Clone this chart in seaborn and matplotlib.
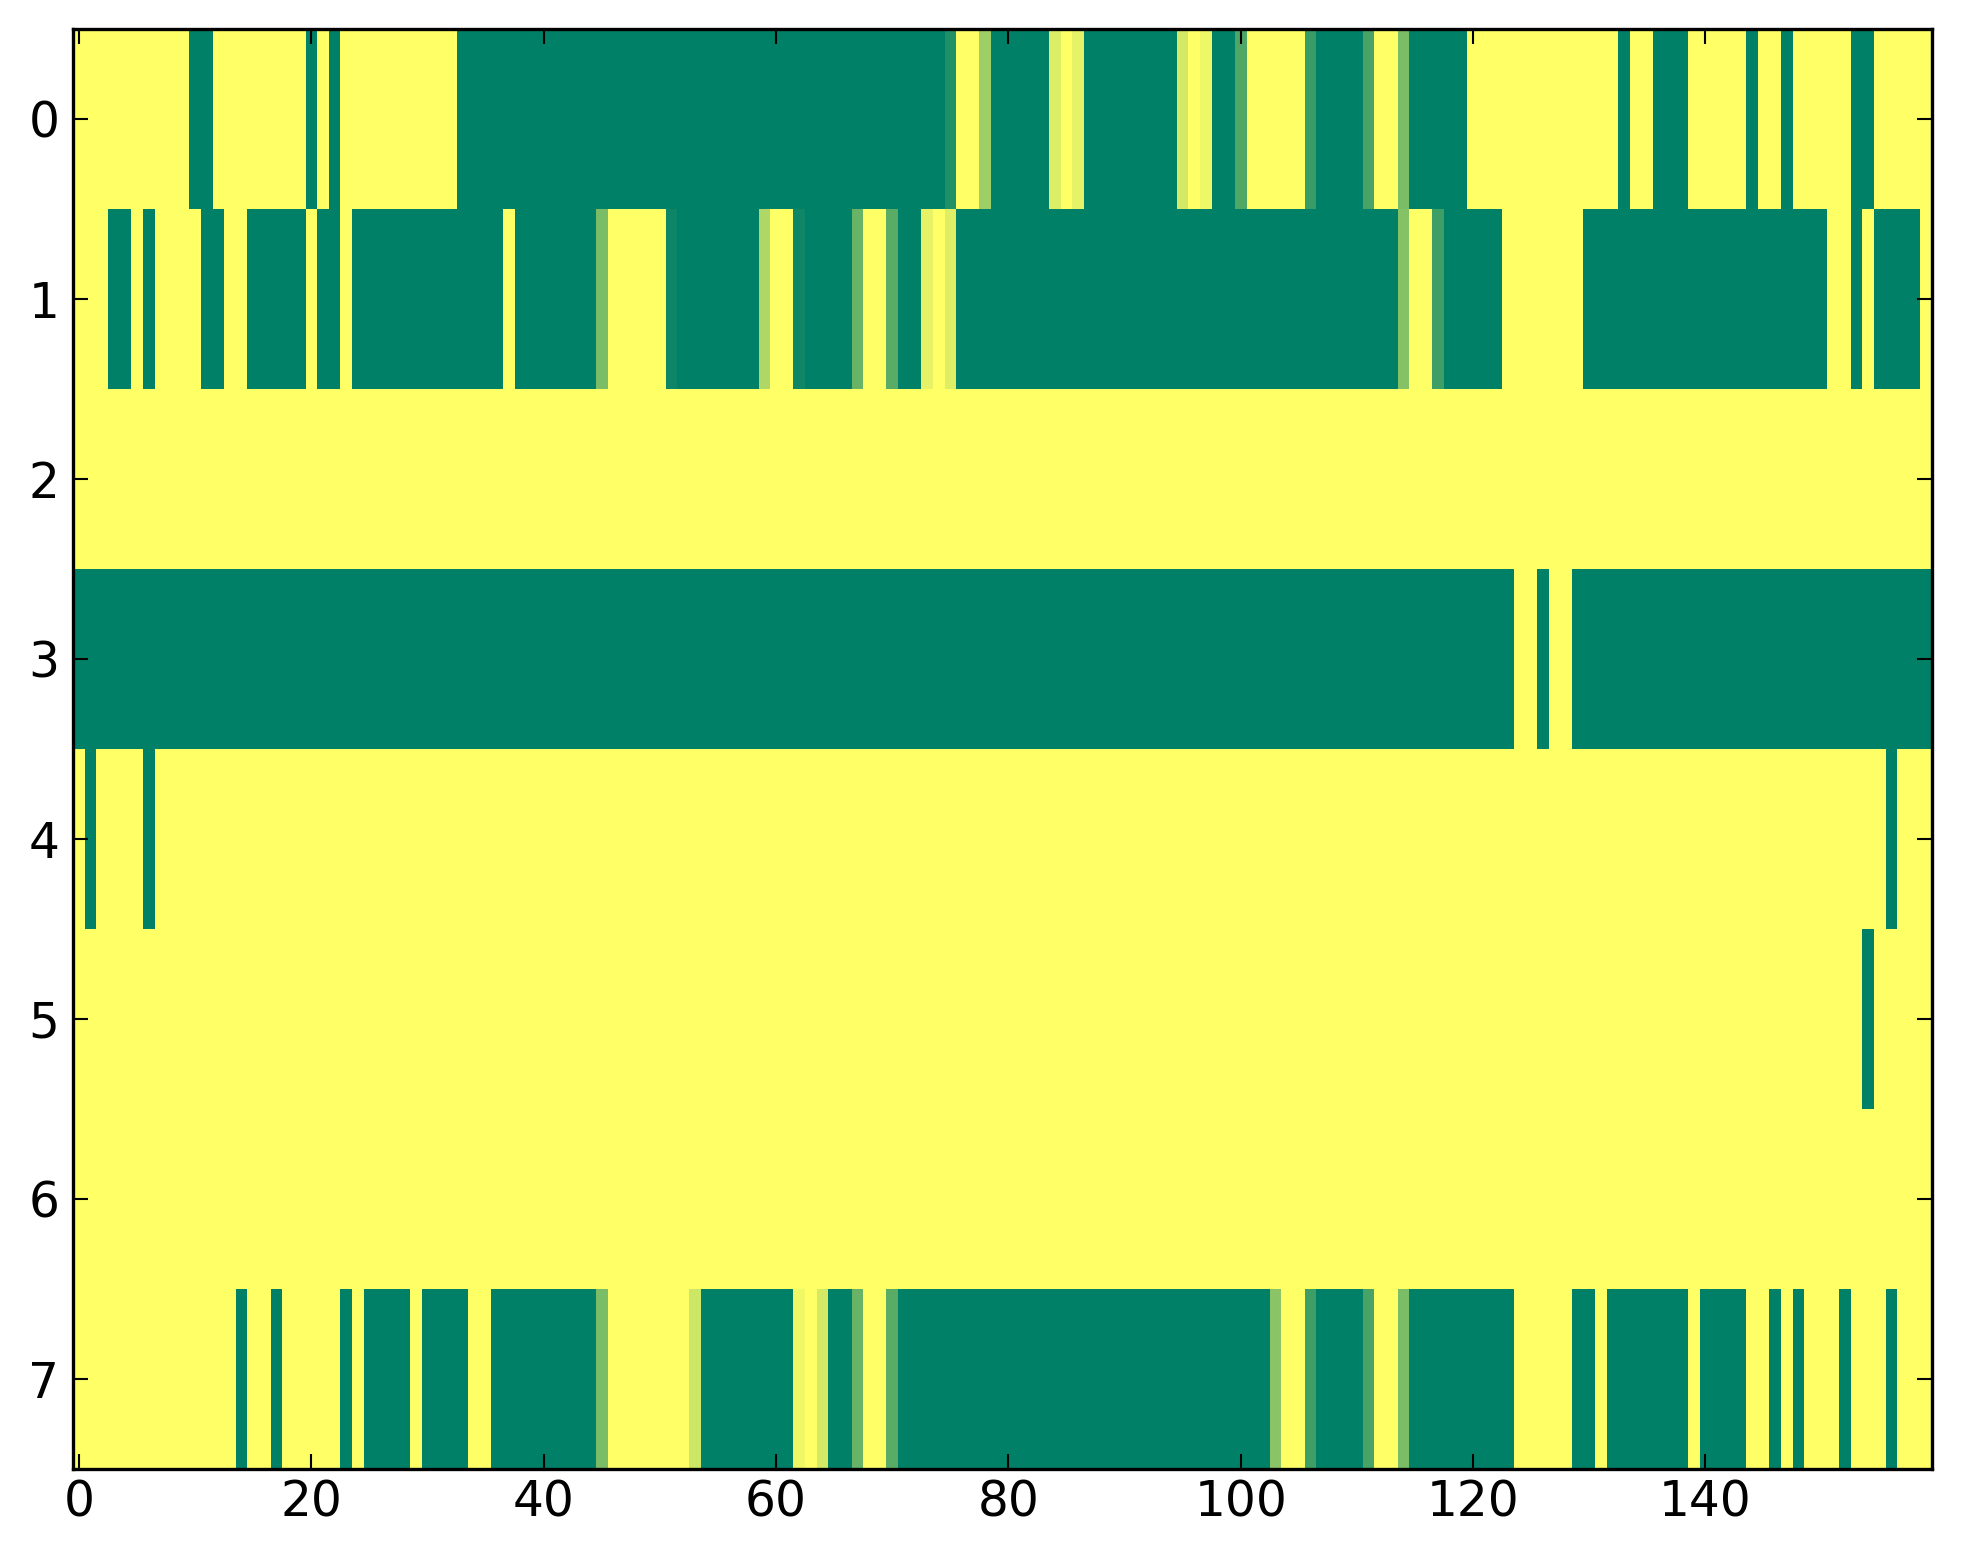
import numpy as np
import pandas as pd
import matplotlib
matplotlib.use("Agg")
import matplotlib.pyplot as plt
import seaborn as sns

# ---- data (one list per row, 160 columns) ----
row0 = [1, 1, 1, 1, 1, 1, 1, 1, 1, 1,
        0, 0, 1, 1, 1, 1, 1, 1, 1, 1,
        0, 1, 0, 1, 1, 1, 1, 1, 1, 1,
        1, 1, 1, 0, 0, 0, 0, 0, 0, 0,
        0, 0, 0, 0, 0, 0, 0, 0, 0, 0,
        0, 0, 0, 0, 0, 0, 0, 0, 0, 0,
        0, 0, 0, 0, 0, 0, 0, 0, 0, 0,
        0, 0, 0, 0, 0, .13, 1, 1, .62, 0,
        0, 0, 0, 0, .86, 1, .9, 0, 0, 0,
        0, 0, 0, 0, 0, .83, 1, .93, 0, 0,
        .31, 1, 1, 1, 1, 1, .22, 0, 0, 0,
        0, .28, 1, 1, .48, 0, 0, 0, 0, 0,
        1, 1, 1, 1, 1, 1, 1, 1, 1, 1,
        1, 1, 1, 0, 1, 1, 0, 0, 0, 1,
        1, 1, 1, 1, 0, 1, 1, 0, 1, 1,
        1, 1, 1, 0, 0, 1, 1, 1, 1, 1]
row1 = [1, 1, 1, 0, 0, 1, 0, 1, 1, 1,
        1, 0, 0, 1, 1, 0, 0, 0, 0, 0,
        1, 0, 0, 1, 0, 0, 0, 0, 0, 0,
        0, 0, 0, 0, 0, 0, 0, 1, 0, 0,
        0, 0, 0, 0, 0, .48, 1, 1, 1, 1,
        1, .05, 0, 0, 0, 0, 0, 0, 0, .68,
        1, 1, .06, 0, 0, 0, 0, .41, 1, 1,
        .35, 0, 0, .9, 1, .87, 0, 0, 0, 0,
        0, 0, 0, 0, 0, 0, 0, 0, 0, 0,
        0, 0, 0, 0, 0, 0, 0, 0, 0, 0,
        0, 0, 0, 0, 0, 0, 0, 0, 0, 0,
        0, 0, 0, 0, .52, 1, 1, .24, 0, 0,
        0, 0, 0, 1, 1, 1, 1, 1, 1, 1,
        0, 0, 0, 0, 0, 0, 0, 0, 0, 0,
        0, 0, 0, 0, 0, 0, 0, 0, 0, 0,
        0, 1, 1, 0, 1, 0, 0, 0, 0, 1]
row2 = [1, 1, 1, 1, 1, 1, 1, 1, 1, 1,
        1, 1, 1, 1, 1, 1, 1, 1, 1, 1,
        1, 1, 1, 1, 1, 1, 1, 1, 1, 1,
        1, 1, 1, 1, 1, 1, 1, 1, 1, 1,
        1, 1, 1, 1, 1, 1, 1, 1, 1, 1,
        1, 1, 1, 1, 1, 1, 1, 1, 1, 1,
        1, 1, 1, 1, 1, 1, 1, 1, 1, 1,
        1, 1, 1, 1, 1, 1, 1, 1, 1, 1,
        1, 1, 1, 1, 1, 1, 1, 1, 1, 1,
        1, 1, 1, 1, 1, 1, 1, 1, 1, 1,
        1, 1, 1, 1, 1, 1, 1, 1, 1, 1,
        1, 1, 1, 1, 1, 1, 1, 1, 1, 1,
        1, 1, 1, 1, 1, 1, 1, 1, 1, 1,
        1, 1, 1, 1, 1, 1, 1, 1, 1, 1,
        1, 1, 1, 1, 1, 1, 1, 1, 1, 1,
        1, 1, 1, 1, 1, 1, 1, 1, 1, 1]
row3 = [0, 0, 0, 0, 0, 0, 0, 0, 0, 0,
        0, 0, 0, 0, 0, 0, 0, 0, 0, 0,
        0, 0, 0, 0, 0, 0, 0, 0, 0, 0,
        0, 0, 0, 0, 0, 0, 0, 0, 0, 0,
        0, 0, 0, 0, 0, 0, 0, 0, 0, 0,
        0, 0, 0, 0, 0, 0, 0, 0, 0, 0,
        0, 0, 0, 0, 0, 0, 0, 0, 0, 0,
        0, 0, 0, 0, 0, 0, 0, 0, 0, 0,
        0, 0, 0, 0, 0, 0, 0, 0, 0, 0,
        0, 0, 0, 0, 0, 0, 0, 0, 0, 0,
        0, 0, 0, 0, 0, 0, 0, 0, 0, 0,
        0, 0, 0, 0, 0, 0, 0, 0, 0, 0,
        0, 0, 0, 0, 1, 1, 0, 1, 1, 0,
        0, 0, 0, 0, 0, 0, 0, 0, 0, 0,
        0, 0, 0, 0, 0, 0, 0, 0, 0, 0,
        0, 0, 0, 0, 0, 0, 0, 0, 0, 0]
row4 = [1, 0, 1, 1, 1, 1, 0, 1, 1, 1,
        1, 1, 1, 1, 1, 1, 1, 1, 1, 1,
        1, 1, 1, 1, 1, 1, 1, 1, 1, 1,
        1, 1, 1, 1, 1, 1, 1, 1, 1, 1,
        1, 1, 1, 1, 1, 1, 1, 1, 1, 1,
        1, 1, 1, 1, 1, 1, 1, 1, 1, 1,
        1, 1, 1, 1, 1, 1, 1, 1, 1, 1,
        1, 1, 1, 1, 1, 1, 1, 1, 1, 1,
        1, 1, 1, 1, 1, 1, 1, 1, 1, 1,
        1, 1, 1, 1, 1, 1, 1, 1, 1, 1,
        1, 1, 1, 1, 1, 1, 1, 1, 1, 1,
        1, 1, 1, 1, 1, 1, 1, 1, 1, 1,
        1, 1, 1, 1, 1, 1, 1, 1, 1, 1,
        1, 1, 1, 1, 1, 1, 1, 1, 1, 1,
        1, 1, 1, 1, 1, 1, 1, 1, 1, 1,
        1, 1, 1, 1, 1, 1, 0, 1, 1, 1]
row5 = [1, 1, 1, 1, 1, 1, 1, 1, 1, 1,
        1, 1, 1, 1, 1, 1, 1, 1, 1, 1,
        1, 1, 1, 1, 1, 1, 1, 1, 1, 1,
        1, 1, 1, 1, 1, 1, 1, 1, 1, 1,
        1, 1, 1, 1, 1, 1, 1, 1, 1, 1,
        1, 1, 1, 1, 1, 1, 1, 1, 1, 1,
        1, 1, 1, 1, 1, 1, 1, 1, 1, 1,
        1, 1, 1, 1, 1, 1, 1, 1, 1, 1,
        1, 1, 1, 1, 1, 1, 1, 1, 1, 1,
        1, 1, 1, 1, 1, 1, 1, 1, 1, 1,
        1, 1, 1, 1, 1, 1, 1, 1, 1, 1,
        1, 1, 1, 1, 1, 1, 1, 1, 1, 1,
        1, 1, 1, 1, 1, 1, 1, 1, 1, 1,
        1, 1, 1, 1, 1, 1, 1, 1, 1, 1,
        1, 1, 1, 1, 1, 1, 1, 1, 1, 1,
        1, 1, 1, 1, 0, 1, 1, 1, 1, 1]
row6 = [1, 1, 1, 1, 1, 1, 1, 1, 1, 1,
        1, 1, 1, 1, 1, 1, 1, 1, 1, 1,
        1, 1, 1, 1, 1, 1, 1, 1, 1, 1,
        1, 1, 1, 1, 1, 1, 1, 1, 1, 1,
        1, 1, 1, 1, 1, 1, 1, 1, 1, 1,
        1, 1, 1, 1, 1, 1, 1, 1, 1, 1,
        1, 1, 1, 1, 1, 1, 1, 1, 1, 1,
        1, 1, 1, 1, 1, 1, 1, 1, 1, 1,
        1, 1, 1, 1, 1, 1, 1, 1, 1, 1,
        1, 1, 1, 1, 1, 1, 1, 1, 1, 1,
        1, 1, 1, 1, 1, 1, 1, 1, 1, 1,
        1, 1, 1, 1, 1, 1, 1, 1, 1, 1,
        1, 1, 1, 1, 1, 1, 1, 1, 1, 1,
        1, 1, 1, 1, 1, 1, 1, 1, 1, 1,
        1, 1, 1, 1, 1, 1, 1, 1, 1, 1,
        1, 1, 1, 1, 1, 1, 1, 1, 1, 1]
row7 = [1, 1, 1, 1, 1, 1, 1, 1, 1, 1,
        1, 1, 1, 1, 0, 1, 1, 0, 1, 1,
        1, 1, 1, 0, 1, 0, 0, 0, 0, 1,
        0, 0, 0, 0, 1, 1, 0, 0, 0, 0,
        0, 0, 0, 0, 0, .48, 1, 1, 1, 1,
        1, 1, 1, .8, 0, 0, 0, 0, 0, 0,
        0, 0, .94, 1, .83, 0, 0, .41, 1, 1,
        .35, 0, 0, 0, 0, 0, 0, 0, 0, 0,
        0, 0, 0, 0, 0, 0, 0, 0, 0, 0,
        0, 0, 0, 0, 0, 0, 0, 0, 0, 0,
        0, 0, 0, .54, 1, 1, .24, 0, 0, 0,
        0, .28, 1, 1, .48, 0, 0, 0, 0, 0,
        0, 0, 0, 0, 1, 1, 1, 1, 1, 0,
        0, 1, 0, 0, 0, 0, 0, 0, 0, 1,
        0, 0, 0, 0, 1, 1, 0, 1, 0, 1,
        1, 1, 0, 1, 1, 1, 0, 1, 1, 1]

rows = [row0, row1, row2, row3, row4, row5, row6, row7]
row_labels = ["0", "1", "2", "3", "4", "5", "6", "7"]
xtick_values = [0, 20, 40, 60, 80, 100, 120, 140]

data = pd.DataFrame(np.array(rows, dtype=float), index=row_labels)

# ---- figure ----
plt.rcParams["font.family"] = ["DejaVu Sans"]
fig = plt.figure(figsize=(19.63, 15.64), dpi=100)
ax = fig.add_axes([0.0373, 0.0609, 0.9469, 0.9206])

sns.heatmap(data, ax=ax, cmap="summer", vmin=0, vmax=1, cbar=False,
            linewidths=0, xticklabels=False, yticklabels=False)

ncols = data.shape[1]
ax.set_xlim(0, ncols)
ax.set_ylim(len(rows), 0)
ax.set_xticks([v + 0.5 for v in xtick_values])
ax.set_xticklabels([str(v) for v in xtick_values], rotation=0)
ax.set_yticks([i + 0.5 for i in range(len(rows))])
ax.set_yticklabels(row_labels, rotation=0)

for sp in ax.spines.values():
    sp.set_visible(True)
    sp.set_linewidth(2.4)
    sp.set_color("black")

ax.tick_params(axis="both", which="major", direction="in", length=11,
               width=1.5, color="black", labelsize=35,
               top=True, right=True, bottom=True, left=True,
               labeltop=False, labelright=False)
ax.tick_params(axis="x", pad=7)
ax.tick_params(axis="y", pad=10)
ax.set_xlabel("")
ax.set_ylabel("")

fig.savefig("out.png", dpi=100)
